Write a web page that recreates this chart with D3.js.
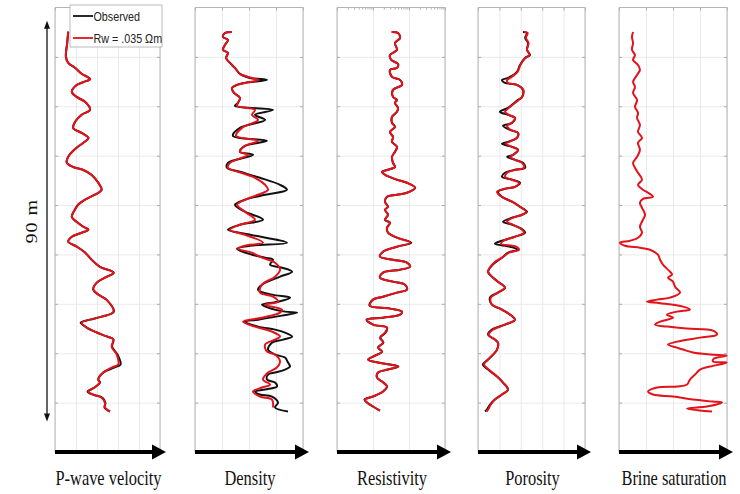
<!DOCTYPE html>
<html><head><meta charset="utf-8">
<script src="https://cdn.jsdelivr.net/npm/d3@7"></script>
<style>body{margin:0;background:#fff}svg{display:block}</style>
</head><body>
<svg id="c" width="740" height="494"></svg>
<script>
// ---- data: [depth (m), value] ----
const depthTicks = [10,20,30,40,50,60,70,80];
const vpTicks = [1,2,3,4,5,6];
const denTicks = [1.8,2.0,2.2,2.4,2.6];
const resTicks = [0.1,1,10,100];
const porTicks = [0,0.1,0.2,0.3,0.4,0.5];
const swTicks = [0,0.25,0.5,0.75,1];

const vpModel = [[4.9,1.63],[7.2,1.58],[10.0,1.52],[11.2,1.63],[12.2,1.95],[13.4,2.27],[14.5,2.67],[15.1,2.35],[15.7,2.03],[17.1,1.80],[18.1,2.03],[19.1,2.43],[20.7,2.67],[21.7,2.27],[23.2,1.95],[24.4,1.87],[25.4,2.27],[26.4,2.59],[27.4,2.35],[28.4,2.03],[30.2,1.63],[31.4,1.56],[32.3,1.87],[32.9,2.35],[33.9,2.75],[35.5,3.06],[36.9,3.22],[37.9,2.90],[38.9,2.43],[39.9,2.11],[40.9,1.95],[42.4,1.80],[43.4,2.03],[44.4,2.35],[45.0,2.59],[45.6,2.27],[46.4,1.80],[47.4,1.63],[48.4,2.03],[49.6,2.43],[51.1,2.75],[52.5,3.14],[53.7,3.78],[54.7,3.38],[55.7,2.99],[57.1,2.82],[58.1,3.06],[59.2,3.46],[61.6,3.78],[62.6,3.22],[63.2,2.67],[63.8,2.27],[64.8,2.51],[65.8,2.99],[66.6,3.46],[67.2,3.78],[68.7,3.70],[70.3,3.94],[72.3,4.01],[72.9,3.70],[73.9,3.30],[75.3,3.06],[75.9,3.14],[76.9,2.90],[77.8,2.59],[78.4,2.82],[79.0,3.22],[80.0,3.38],[81.0,3.38],[81.8,3.62]];
const vpObserved = [[4.9,1.63],[7.2,1.58],[10.0,1.52],[11.2,1.63],[12.2,1.95],[13.4,2.27],[14.5,2.67],[15.1,2.35],[15.7,2.03],[17.1,1.80],[18.1,2.03],[19.1,2.43],[20.7,2.67],[21.7,2.27],[23.2,1.95],[24.4,1.87],[25.4,2.27],[26.4,2.59],[27.4,2.35],[28.4,2.03],[30.2,1.63],[31.4,1.56],[32.3,1.87],[32.9,2.35],[33.9,2.75],[35.5,3.06],[36.9,3.22],[37.9,2.90],[38.9,2.43],[39.9,2.11],[40.9,1.95],[42.4,1.80],[43.4,2.03],[44.4,2.35],[45.0,2.59],[45.6,2.27],[46.4,1.80],[47.4,1.63],[48.4,2.03],[49.6,2.43],[51.1,2.75],[52.5,3.14],[53.7,3.80],[54.7,3.38],[55.7,2.99],[57.1,2.82],[58.1,3.06],[59.2,3.46],[61.6,3.80],[62.6,3.22],[63.2,2.67],[63.8,2.22],[64.8,2.51],[65.8,2.99],[66.6,3.46],[67.2,3.78],[68.7,3.72],[70.3,3.98],[72.3,4.12],[72.9,3.82],[73.9,3.30],[75.3,3.06],[75.9,3.14],[76.9,2.90],[77.8,2.55],[78.4,2.82],[79.0,3.26],[80.0,3.40],[81.0,3.36],[81.8,3.62]];

const denObserved = [[4.95,2.072],[5.16,2.022],[5.97,2.007],[6.57,2.044],[7.58,2.022],[8.59,2.007],[9.20,2.044],[10.21,2.030],[11.22,2.059],[12.23,2.096],[13.45,2.133],[14.26,2.207],[14.66,2.333],[15.27,2.170],[15.67,2.111],[16.28,2.074],[17.29,2.089],[18.30,2.133],[19.31,2.119],[19.92,2.096],[20.73,2.378],[21.74,2.244],[22.75,2.319],[24.37,2.133],[25.99,2.081],[27.00,2.333],[28.01,2.170],[29.22,2.133],[29.83,2.230],[31.45,2.044],[32.46,2.037],[33.27,2.133],[34.48,2.281],[35.90,2.430],[36.91,2.481],[37.92,2.319],[38.93,2.170],[39.94,2.096],[41.35,2.170],[42.97,2.304],[43.98,2.133],[44.99,2.044],[46.01,2.207],[47.62,2.481],[48.23,2.207],[48.84,2.111],[50.05,2.222],[50.66,2.319],[51.06,2.378],[52.07,2.356],[52.68,2.444],[53.49,2.519],[54.50,2.430],[56.12,2.296],[57.13,2.267],[58.14,2.370],[58.75,2.504],[59.56,2.415],[60.16,2.296],[60.77,2.341],[61.58,2.467],[61.78,2.556],[62.39,2.444],[63.20,2.267],[63.60,2.170],[64.61,2.267],[65.22,2.393],[65.83,2.467],[66.63,2.519],[67.24,2.452],[67.85,2.370],[69.26,2.341],[70.27,2.393],[70.88,2.467],[71.89,2.489],[72.70,2.504],[73.31,2.467],[73.91,2.393],[74.32,2.341],[75.33,2.333],[75.94,2.393],[76.74,2.407],[77.35,2.319],[77.76,2.244],[78.36,2.281],[78.77,2.370],[79.98,2.415],[80.99,2.393],[81.80,2.489]];
const denModel = [[4.95,2.072],[5.16,2.022],[5.97,2.007],[6.57,2.044],[7.58,2.022],[8.59,2.007],[9.20,2.044],[10.21,2.030],[11.22,2.059],[12.23,2.096],[13.45,2.133],[14.26,2.222],[14.66,2.267],[15.27,2.170],[15.67,2.111],[16.28,2.074],[17.29,2.089],[18.30,2.133],[19.31,2.119],[19.92,2.111],[20.73,2.244],[21.74,2.222],[22.75,2.267],[24.37,2.148],[25.99,2.104],[27.00,2.267],[28.01,2.170],[29.22,2.133],[29.83,2.193],[31.45,2.059],[32.46,2.044],[33.27,2.119],[34.48,2.244],[35.90,2.319],[36.91,2.341],[37.92,2.267],[38.93,2.170],[39.94,2.111],[41.35,2.170],[42.97,2.244],[43.98,2.133],[44.99,2.059],[46.01,2.170],[47.62,2.304],[48.23,2.170],[48.84,2.119],[49.65,2.222],[50.66,2.296],[51.67,2.393],[53.09,2.430],[54.50,2.393],[56.12,2.296],[57.73,2.281],[58.55,2.378],[59.56,2.415],[60.16,2.319],[61.17,2.444],[61.78,2.430],[62.80,2.296],[63.60,2.156],[64.61,2.244],[65.62,2.370],[66.63,2.430],[67.24,2.393],[68.25,2.319],[69.67,2.333],[70.27,2.393],[71.69,2.430],[72.90,2.407],[73.91,2.341],[75.33,2.304],[76.34,2.356],[76.95,2.296],[77.76,2.230],[78.77,2.281],[79.37,2.370],[80.99,2.378]];

const resModel = [[4.95,3.30],[5.16,4.95],[6.17,5.62],[7.18,4.08],[8.59,4.64],[9.61,2.97],[10.62,3.2],[11.43,4.95],[12.23,4.64],[12.64,2.97],[14.05,3.37],[14.66,5.62],[15.67,6.39],[16.68,3.59],[18.10,3.59],[18.71,4.64],[19.31,4.08],[20.32,4.95],[21.13,4.64],[22.14,3.37],[23.36,3.37],[24.17,4.08],[25.18,2.97],[26.19,3.59],[27.20,3.37],[28.21,4.64],[29.22,4.08],[30.23,3.37],[31.45,3.59],[32.26,4.08],[32.86,2.61],[33.27,1.78],[33.87,2.15],[34.88,4.64],[35.49,8.80],[36.50,14.7],[37.51,8.80],[37.92,4.64],[38.32,2.45],[39.33,2.15],[40.34,2.61],[40.95,2.15],[41.96,2.61],[42.97,2.15],[43.58,2.97],[44.59,2.45],[45.60,2.61],[46.61,4.64],[47.62,10.7],[48.43,4.64],[49.44,1.90],[50.45,1.56],[51.06,3.59],[51.67,8.80],[52.48,10.7],[53.09,5.62],[53.69,1.90],[54.70,1.56],[55.51,3.59],[56.12,7.74],[57.13,8.80],[57.73,4.64],[58.55,1.90],[59.15,1.00],[60.37,0.83],[60.97,2.97],[61.58,6.39],[62.19,5.62],[62.80,1.90],[63.20,0.68],[64.21,1.00],[64.81,2.45],[65.82,2.15],[66.84,1.56],[67.85,1.90],[68.86,1.38],[69.67,1.78],[70.68,1.00],[71.28,0.73],[71.89,1.38],[72.30,2.97],[72.70,4.95],[73.31,2.61],[73.91,1.38],[74.92,1.29],[75.73,1.78],[76.74,2.45],[77.76,1.90],[78.77,1.00],[79.37,0.60],[79.98,0.68],[80.79,1.00],[81.60,1.56]];
const resObserved = [[4.95,3.30],[5.16,4.95],[6.17,5.62],[7.18,4.08],[8.59,4.64],[9.61,2.97],[10.62,3.2],[11.43,4.95],[12.23,4.64],[12.64,2.97],[14.05,3.37],[14.66,5.62],[15.67,6.39],[16.68,3.59],[18.10,3.59],[18.71,4.64],[19.31,4.08],[20.32,4.95],[21.13,4.64],[22.14,3.37],[23.36,3.37],[24.17,4.08],[25.18,2.97],[26.19,3.59],[27.20,3.37],[28.21,4.64],[29.22,4.08],[30.23,3.37],[31.45,3.59],[32.26,4.08],[32.86,2.61],[33.27,1.78],[33.87,2.15],[34.88,4.64],[35.49,8.80],[36.50,14.9],[37.51,8.80],[37.92,4.64],[38.32,2.45],[39.33,2.15],[40.34,2.61],[40.95,2.15],[41.96,2.61],[42.97,2.15],[43.58,2.97],[44.59,2.45],[45.60,2.61],[46.61,4.64],[47.62,11.6],[48.43,4.64],[49.44,1.90],[50.45,1.56],[51.06,3.59],[51.67,8.80],[52.48,10.7],[53.09,5.62],[53.69,1.90],[54.70,1.56],[55.51,3.59],[56.12,7.74],[57.13,8.80],[57.73,4.64],[58.55,1.90],[59.15,1.00],[60.37,0.80],[60.97,2.97],[61.58,6.39],[62.19,5.62],[62.80,1.90],[63.20,0.66],[64.21,1.00],[64.81,2.45],[65.82,2.25],[66.84,1.60],[67.85,1.95],[68.86,1.38],[69.67,1.78],[70.68,1.00],[71.28,0.73],[71.89,1.38],[72.30,2.97],[72.70,5.10],[73.31,2.61],[73.91,1.38],[74.92,1.29],[75.73,1.78],[76.74,2.45],[77.76,1.90],[78.77,1.00],[79.37,0.58],[79.98,0.68],[80.79,1.00],[81.60,1.56]];

const porObserved = [[4.95,0.210],[5.16,0.229],[6.17,0.220],[7.18,0.234],[8.59,0.229],[9.61,0.243],[10.21,0.220],[11.63,0.196],[13.04,0.182],[14.26,0.140],[14.66,0.112],[15.27,0.126],[15.67,0.182],[16.68,0.210],[18.10,0.206],[18.71,0.187],[20.32,0.140],[21.13,0.103],[21.74,0.140],[22.35,0.173],[23.36,0.159],[23.96,0.117],[24.77,0.150],[25.38,0.187],[26.39,0.182],[27.20,0.140],[27.60,0.112],[28.21,0.159],[28.82,0.187],[29.83,0.164],[30.23,0.136],[30.84,0.173],[31.45,0.210],[32.46,0.220],[32.86,0.173],[33.47,0.126],[34.28,0.112],[34.88,0.159],[35.49,0.196],[36.30,0.173],[36.70,0.126],[37.31,0.093],[38.32,0.112],[39.33,0.159],[40.34,0.196],[41.35,0.229],[41.96,0.206],[42.57,0.159],[43.38,0.117],[43.98,0.159],[44.99,0.210],[45.60,0.220],[46.41,0.173],[47.22,0.112],[47.83,0.079],[48.43,0.150],[49.04,0.187],[49.65,0.140],[50.66,0.112],[51.67,0.079],[53.49,0.047],[54.50,0.065],[55.51,0.093],[56.72,0.126],[57.73,0.093],[58.75,0.056],[60.16,0.065],[61.17,0.112],[63.20,0.173],[64.21,0.126],[65.22,0.065],[66.23,0.047],[67.24,0.079],[67.85,0.093],[69.26,0.089],[71.28,0.047],[72.30,0.023],[73.31,0.047],[74.72,0.089],[75.94,0.117],[77.35,0.140],[78.36,0.112],[79.37,0.079],[80.39,0.056],[81.40,0.042],[81.80,0.033]];
const porModel = [[4.95,0.215],[5.16,0.232],[6.17,0.224],[7.18,0.236],[8.59,0.229],[9.61,0.240],[10.21,0.222],[11.63,0.198],[13.04,0.185],[14.26,0.150],[14.66,0.136],[15.27,0.140],[15.67,0.182],[16.68,0.212],[18.10,0.206],[18.71,0.190],[20.32,0.145],[21.13,0.126],[21.74,0.145],[22.35,0.173],[23.36,0.159],[23.96,0.136],[24.77,0.152],[25.38,0.187],[26.39,0.182],[27.20,0.145],[27.60,0.131],[28.21,0.159],[28.82,0.187],[29.83,0.164],[30.23,0.150],[30.84,0.173],[31.45,0.206],[32.46,0.215],[32.86,0.175],[33.47,0.136],[34.28,0.126],[34.88,0.159],[35.49,0.192],[36.30,0.173],[36.70,0.130],[37.31,0.089],[38.32,0.110],[39.33,0.159],[40.34,0.196],[41.35,0.225],[41.96,0.206],[42.57,0.162],[43.38,0.136],[43.98,0.162],[44.99,0.206],[45.60,0.215],[46.41,0.173],[47.22,0.120],[47.83,0.107],[48.43,0.178],[49.04,0.192],[49.65,0.145],[50.66,0.112],[51.67,0.075],[53.49,0.047],[54.50,0.065],[55.51,0.093],[56.72,0.126],[57.73,0.093],[58.75,0.060],[60.16,0.065],[61.17,0.112],[63.20,0.173],[64.21,0.126],[65.22,0.070],[66.23,0.050],[67.24,0.079],[67.85,0.093],[69.26,0.089],[71.28,0.047],[72.30,0.028],[73.31,0.050],[74.72,0.089],[75.94,0.117],[77.35,0.140],[78.36,0.112],[79.37,0.079],[80.39,0.060],[81.40,0.047],[81.80,0.040]];

const swModel = [[4.95,0.130],[5.97,0.120],[7.18,0.130],[8.59,0.120],[9.61,0.148],[10.62,0.130],[11.63,0.176],[12.64,0.194],[13.65,0.167],[15.07,0.130],[16.08,0.148],[17.29,0.130],[18.71,0.167],[20.12,0.148],[21.33,0.176],[22.35,0.167],[23.76,0.194],[25.18,0.176],[26.39,0.213],[27.40,0.176],[28.82,0.194],[30.23,0.167],[31.45,0.130],[32.46,0.148],[33.47,0.176],[34.88,0.213],[35.90,0.176],[36.91,0.222],[37.51,0.269],[38.32,0.315],[38.73,0.222],[39.53,0.194],[40.55,0.213],[41.96,0.241],[42.97,0.222],[44.39,0.194],[45.60,0.213],[46.61,0.176],[47.22,0.102],[47.63,0.009],[48.23,0.056],[48.64,0.194],[49.04,0.287],[50.05,0.361],[51.06,0.380],[52.07,0.407],[53.49,0.472],[54.10,0.491],[54.70,0.454],[55.51,0.500],[56.52,0.519],[57.73,0.565],[58.75,0.472],[59.15,0.352],[59.56,0.259],[59.86,0.380],[60.57,0.593],[61.17,0.657],[61.58,0.537],[62.19,0.444],[62.80,0.500],[63.60,0.380],[64.21,0.333],[64.61,0.444],[65.01,0.630],[65.42,0.870],[66.23,0.907],[66.84,0.750],[67.65,0.537],[68.25,0.454],[68.86,0.537],[69.26,0.593],[69.87,0.685],[70.27,0.843],[70.48,1.0],[71.08,0.880],[71.69,0.870],[71.89,1.0],[72.70,0.843],[73.31,0.750],[74.32,0.704],[75.33,0.657],[76.34,0.630],[76.74,0.537],[76.95,0.352],[77.76,0.269],[78.36,0.315],[78.77,0.500],[79.37,0.685],[79.78,0.870],[79.98,0.954],[80.79,0.815],[81.19,0.630],[81.60,0.750],[81.80,0.861]];

const labels = ["P-wave velocity","Density","Resistivity","Porosity","Brine saturation"];
const legendLabels = ["Observed","Rw = .035 \u03A9m"];
const colors = {obs:"#111111", model:"#e3121b"};

// ---- layout ----
const svg = d3.select("#c");
const y = d3.scaleLinear().domain([0,90]).range([7.5,452]);
const yTop = y(0), yBot = y(90);

const panels = [
  {label:labels[0], x0:55,  x1:160, x:d3.scaleLinear().domain([1,6]),     ticks:vpTicks,  series:[vpObserved, vpModel]},
  {label:labels[1], x0:195, x1:303, x:d3.scaleLinear().domain([1.8,2.6]), ticks:denTicks, series:[denObserved, denModel]},
  {label:labels[2], x0:337, x1:445, x:d3.scaleLog().domain([0.1,100]),    ticks:resTicks, series:[resObserved, resModel], log:true},
  {label:labels[3], x0:478, x1:585, x:d3.scaleLinear().domain([0,0.5]),   ticks:porTicks, series:[porObserved, porModel]},
  {label:labels[4], x0:619, x1:727, x:d3.scaleLinear().domain([0,1]),     ticks:swTicks,  series:[swModel], modelOnly:true}
];

panels.forEach((p,i)=>{
  p.x.range([p.x0,p.x1]);
  const g = svg.append("g");
  const gridStyle = s=>{s.select(".domain").remove(); s.selectAll("line").attr("stroke","#e4e4e4").attr("stroke-width",0.8);};
  g.append("g").attr("transform",`translate(0,${yTop})`)
    .call(d3.axisBottom(p.x).tickValues(p.ticks).tickSize(yBot-yTop).tickFormat("")).call(gridStyle);
  g.append("g").attr("transform",`translate(${p.x0},0)`)
    .call(d3.axisRight(y).tickValues(depthTicks).tickSize(p.x1-p.x0).tickFormat("")).call(gridStyle);
  const tk = s=>{s.select(".domain").remove(); s.selectAll("line").attr("stroke","#9a9a9a").attr("stroke-width",0.8);};
  g.append("g").attr("transform",`translate(${p.x0},0)`).call(d3.axisRight(y).tickValues(depthTicks).tickSize(3).tickFormat("")).call(tk);
  g.append("g").attr("transform",`translate(${p.x1},0)`).call(d3.axisLeft(y).tickValues(depthTicks).tickSize(3).tickFormat("")).call(tk);
  g.append("g").attr("transform",`translate(0,${yTop})`).call(d3.axisBottom(p.x).tickValues(p.ticks).tickSize(3).tickFormat("")).call(tk);
  if(p.log){
    const minor = p.x.ticks().filter(v=>!p.ticks.includes(v));
    g.append("g").attr("transform",`translate(0,${yTop})`).call(d3.axisBottom(p.x).tickValues(minor).tickSize(2).tickFormat("")).call(tk);
  }
  g.append("path").attr("d",`M${p.x0},${yBot}V${yTop}H${p.x1}V${yBot}`).attr("fill","none").attr("stroke","#b5b5b5").attr("stroke-width",1);
  const cid = "clip"+i;
  svg.append("clipPath").attr("id",cid).append("rect").attr("x",p.x0).attr("y",yTop).attr("width",p.x1-p.x0+0.5).attr("height",yBot-yTop);
  const line = d3.line().x(d=>p.x(d[1])).y(d=>y(d[0])).curve(d3.curveCatmullRom.alpha(0.5));
  const cg = g.append("g").attr("clip-path",`url(#${cid})`);
  p.series.forEach((s,k)=>{
    const isModel = p.modelOnly || k===1;
    cg.append("path").attr("d",line(s)).attr("fill","none")
      .attr("stroke", isModel?colors.model:colors.obs).attr("stroke-width",2).attr("stroke-linejoin","round");
  });
  const ay = yBot;
  g.append("line").attr("x1",p.x0).attr("x2",p.x1-6).attr("y1",ay).attr("y2",ay).attr("stroke","#000").attr("stroke-width",4);
  g.append("path").attr("d",`M${p.x1-8},${ay-7.5}L${p.x1+6},${ay}L${p.x1-8},${ay+7.5}Z`).attr("fill","#000");
  g.append("text").attr("transform",`translate(${(p.x0+p.x1)/2+1},485) scale(0.8,1)`)
    .attr("text-anchor","middle").attr("font-family","'Liberation Serif','Times New Roman',serif")
    .attr("font-size",20.5).attr("fill","#111").text(p.label);
});

// depth arrow
const ax = 47, ay0 = y(2.7), ay1 = y(83.8);
svg.append("line").attr("x1",ax).attr("x2",ax).attr("y1",ay0+4).attr("y2",ay1-4).attr("stroke","#333").attr("stroke-width",1.5);
svg.append("path").attr("d",`M${ax-3},${ay0+8}L${ax},${ay0}L${ax+3},${ay0+8}Z`).attr("fill","#111");
svg.append("path").attr("d",`M${ax-3},${ay1-8}L${ax},${ay1}L${ax+3},${ay1-8}Z`).attr("fill","#111");
svg.append("text").attr("transform",`translate(37,${(ay0+ay1)/2}) rotate(-90) scale(1,0.8)`)
  .attr("text-anchor","middle").attr("font-family","'Liberation Serif','Times New Roman',serif")
  .attr("font-size",20).attr("letter-spacing",1).attr("fill","#111").text("90 m");

// legend
const lg = svg.append("g");
lg.append("rect").attr("x",70).attr("y",5).attr("width",92).attr("height",42).attr("fill","#fff").attr("stroke","#aaa").attr("stroke-width",0.8);
[colors.obs, colors.model].forEach((c,i)=>{
  const ly = 16 + i*22;
  lg.append("line").attr("x1",73).attr("x2",93).attr("y1",ly).attr("y2",ly).attr("stroke",c).attr("stroke-width",1.8);
  lg.append("text").attr("transform",`translate(93.5,${ly+4.5}) scale(0.86,1)`)
    .attr("font-family","'Liberation Sans',Arial,sans-serif").attr("font-size",12.5).attr("fill","#222").text(legendLabels[i]);
});
</script>
</body></html>
